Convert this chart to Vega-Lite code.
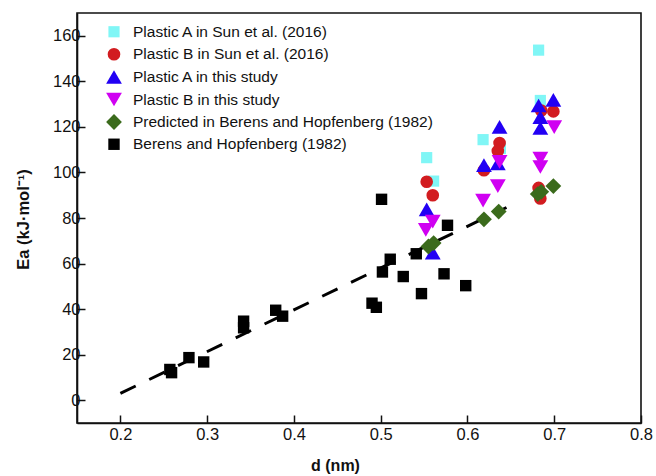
{
  "$schema": "https://vega.github.io/schema/vega-lite/v6.json",
  "width": 564,
  "height": 410,
  "autosize": "none",
  "padding": {"left": 77, "top": 13, "right": 15, "bottom": 53},
  "background": "white",
  "config": {
    "view": {"stroke": "#111", "strokeWidth": 1.6},
    "font": "Liberation Sans"
  },
  "datasets": {
    "pts": [
      {"series": "Berens and Hopfenberg (1982)", "d": 0.257, "ea": 13.5},
      {"series": "Berens and Hopfenberg (1982)", "d": 0.259, "ea": 12.1},
      {"series": "Berens and Hopfenberg (1982)", "d": 0.279, "ea": 18.7},
      {"series": "Berens and Hopfenberg (1982)", "d": 0.296, "ea": 16.8},
      {"series": "Berens and Hopfenberg (1982)", "d": 0.342, "ea": 34.7},
      {"series": "Berens and Hopfenberg (1982)", "d": 0.342, "ea": 31.8},
      {"series": "Berens and Hopfenberg (1982)", "d": 0.379, "ea": 39.5},
      {"series": "Berens and Hopfenberg (1982)", "d": 0.387, "ea": 36.9},
      {"series": "Berens and Hopfenberg (1982)", "d": 0.49, "ea": 42.6},
      {"series": "Berens and Hopfenberg (1982)", "d": 0.495, "ea": 40.8},
      {"series": "Berens and Hopfenberg (1982)", "d": 0.502, "ea": 56.3},
      {"series": "Berens and Hopfenberg (1982)", "d": 0.511, "ea": 61.9},
      {"series": "Berens and Hopfenberg (1982)", "d": 0.526, "ea": 54.3},
      {"series": "Berens and Hopfenberg (1982)", "d": 0.547, "ea": 46.8},
      {"series": "Berens and Hopfenberg (1982)", "d": 0.541, "ea": 64.3},
      {"series": "Berens and Hopfenberg (1982)", "d": 0.573, "ea": 55.5},
      {"series": "Berens and Hopfenberg (1982)", "d": 0.598, "ea": 50.3},
      {"series": "Berens and Hopfenberg (1982)", "d": 0.501, "ea": 88.2},
      {"series": "Berens and Hopfenberg (1982)", "d": 0.577, "ea": 76.8},
      {"series": "Plastic A in Sun et al. (2016)", "d": 0.553, "ea": 106.5},
      {"series": "Plastic A in Sun et al. (2016)", "d": 0.561, "ea": 96.2},
      {"series": "Plastic A in Sun et al. (2016)", "d": 0.618, "ea": 114.4},
      {"series": "Plastic A in Sun et al. (2016)", "d": 0.638, "ea": 110.5},
      {"series": "Plastic A in Sun et al. (2016)", "d": 0.682, "ea": 153.7},
      {"series": "Plastic A in Sun et al. (2016)", "d": 0.684, "ea": 131.6},
      {"series": "Plastic B in Sun et al. (2016)", "d": 0.553, "ea": 95.9},
      {"series": "Plastic B in Sun et al. (2016)", "d": 0.56, "ea": 90.0},
      {"series": "Plastic B in Sun et al. (2016)", "d": 0.619, "ea": 101.0},
      {"series": "Plastic B in Sun et al. (2016)", "d": 0.637, "ea": 112.9},
      {"series": "Plastic B in Sun et al. (2016)", "d": 0.635, "ea": 109.4},
      {"series": "Plastic B in Sun et al. (2016)", "d": 0.699, "ea": 126.8},
      {"series": "Plastic B in Sun et al. (2016)", "d": 0.685, "ea": 127.2},
      {"series": "Plastic B in Sun et al. (2016)", "d": 0.682, "ea": 93.2},
      {"series": "Plastic B in Sun et al. (2016)", "d": 0.684, "ea": 88.6},
      {"series": "Plastic A in this study", "d": 0.553, "ea": 83.8},
      {"series": "Plastic A in this study", "d": 0.56, "ea": 64.8},
      {"series": "Plastic A in this study", "d": 0.619, "ea": 103.2},
      {"series": "Plastic A in this study", "d": 0.635, "ea": 104.0},
      {"series": "Plastic A in this study", "d": 0.637, "ea": 120.0},
      {"series": "Plastic A in this study", "d": 0.682, "ea": 129.4},
      {"series": "Plastic A in this study", "d": 0.699, "ea": 131.9},
      {"series": "Plastic A in this study", "d": 0.684, "ea": 124.3},
      {"series": "Plastic A in this study", "d": 0.684, "ea": 119.5},
      {"series": "Plastic B in this study", "d": 0.56, "ea": 78.4},
      {"series": "Plastic B in this study", "d": 0.552, "ea": 74.8},
      {"series": "Plastic B in this study", "d": 0.618, "ea": 87.6},
      {"series": "Plastic B in this study", "d": 0.635, "ea": 94.0},
      {"series": "Plastic B in this study", "d": 0.637, "ea": 104.6},
      {"series": "Plastic B in this study", "d": 0.684, "ea": 106.1},
      {"series": "Plastic B in this study", "d": 0.684, "ea": 102.4},
      {"series": "Plastic B in this study", "d": 0.7, "ea": 119.9},
      {"series": "Predicted in Berens and Hopfenberg (1982)", "d": 0.555, "ea": 67.5},
      {"series": "Predicted in Berens and Hopfenberg (1982)", "d": 0.561, "ea": 69.0},
      {"series": "Predicted in Berens and Hopfenberg (1982)", "d": 0.619, "ea": 79.4},
      {"series": "Predicted in Berens and Hopfenberg (1982)", "d": 0.636, "ea": 82.8},
      {"series": "Predicted in Berens and Hopfenberg (1982)", "d": 0.681, "ea": 90.5},
      {"series": "Predicted in Berens and Hopfenberg (1982)", "d": 0.685, "ea": 91.5},
      {"series": "Predicted in Berens and Hopfenberg (1982)", "d": 0.699, "ea": 94.0}
    ],
    "fit": [
      {"d": 0.2, "ea": 3.0},
      {"d": 0.645, "ea": 84.6}
    ]
  },
  "layer": [
    {
      "data": {"name": "fit"},
      "mark": {"type": "line", "color": "#000", "strokeWidth": 3, "strokeDash": [17, 15]},
      "encoding": {
        "x": {"field": "d", "type": "quantitative"},
        "y": {"field": "ea", "type": "quantitative"}
      }
    },
    {
      "data": {"name": "pts"},
      "mark": {"type": "point", "filled": true, "opacity": 1, "strokeWidth": 0},
      "encoding": {
        "x": {
          "field": "d", "type": "quantitative",
          "scale": {"domain": [0.15, 0.8], "nice": false, "zero": false},
          "axis": {
            "values": [0.2, 0.3, 0.4, 0.5, 0.6, 0.7, 0.8],
            "format": ".1f",
            "grid": false,
            "domainColor": "#111", "domainWidth": 1.6,
            "tickColor": "#111", "tickWidth": 1.5, "tickSize": -8,
            "labelFontSize": 16.5, "labelColor": "#111", "labelPadding": 11,
            "labelFlush": false,
            "title": "d (nm)", "titleFontSize": 16, "titleFontWeight": "bold", "titleColor": "#111",
            "titleX": 258, "titleY": 34, "titleBaseline": "top", "titleAnchor": "start", "titleAlign": "center"
          }
        },
        "y": {
          "field": "ea", "type": "quantitative",
          "scale": {"domain": [-10, 170], "nice": false, "zero": false},
          "axis": {
            "values": [0, 20, 40, 60, 80, 100, 120, 140, 160],
            "grid": false,
            "domainColor": "#111", "domainWidth": 1.6,
            "tickColor": "#111", "tickWidth": 1.5, "tickSize": -8,
            "labelFontSize": 16.5, "labelColor": "#111", "labelPadding": 5,
            "labelFlush": false,
            "title": "Ea (kJ·mol⁻¹)", "titleFontSize": 16.5, "titleFontWeight": "bold", "titleColor": "#111",
            "titleX": -49, "titleY": 206, "titleAngle": -90, "titleBaseline": "alphabetic", "titleAlign": "center", "titleAnchor": "start"
          }
        },
        "color": {
          "field": "series", "type": "nominal",
          "scale": {
            "domain": ["Plastic A in Sun et al. (2016)", "Plastic B in Sun et al. (2016)", "Plastic A in this study", "Plastic B in this study", "Predicted in Berens and Hopfenberg (1982)", "Berens and Hopfenberg (1982)"],
            "range": ["#80F6F6", "#D21C20", "#2200F4", "#D000F2", "#3B6B1C", "#000000"]
          },
          "legend": {
            "title": null,
            "orient": "none",
            "legendX": 29,
            "legendY": 11,
            "padding": 0,
            "labelFontSize": 15.5,
            "labelColor": "#111",
            "labelOffset": 11,
            "labelLimit": 500,
            "rowPadding": 5.5,
            "symbolStrokeWidth": 0,
            "symbolOpacity": 1
          }
        },
        "shape": {
          "field": "series", "type": "nominal",
          "scale": {
            "domain": ["Plastic A in Sun et al. (2016)", "Plastic B in Sun et al. (2016)", "Plastic A in this study", "Plastic B in this study", "Predicted in Berens and Hopfenberg (1982)", "Berens and Hopfenberg (1982)"],
            "range": ["square", "circle", "triangle-up", "triangle-down", "diamond", "square"]
          }
        },
        "size": {
          "field": "series", "type": "nominal",
          "scale": {
            "type": "ordinal",
            "domain": ["Plastic A in Sun et al. (2016)", "Plastic B in Sun et al. (2016)", "Plastic A in this study", "Plastic B in this study", "Predicted in Berens and Hopfenberg (1982)", "Berens and Hopfenberg (1982)"],
            "range": [125, 160, 250, 250, 250, 130]
          }
        }
      }
    }
  ]
}
